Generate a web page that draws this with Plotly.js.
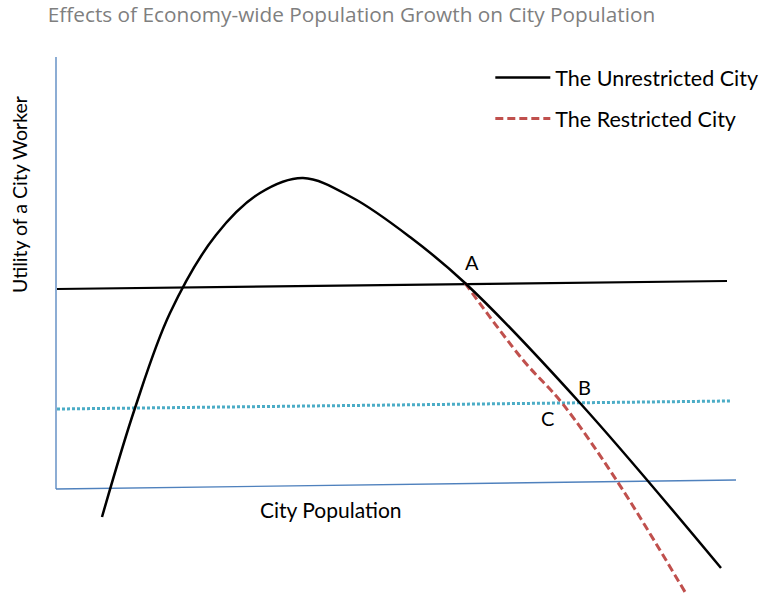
<!DOCTYPE html>
<html>
<head>
<meta charset="utf-8">
<script src="https://cdn.plot.ly/plotly-3.0.1.min.js"></script>
<style>html,body{margin:0;padding:0;background:#fff;}#chart{width:782px;height:601px;}</style>
</head>
<body>
<div id="chart"></div>
<script>
// Diagram values in "population / utility" units, origin at the axis corner
var unrestrictedPop = [46, 79, 114, 160, 204, 247, 297, 354, 409, 524, 665];
var unrestrictedUtil = [-28, 81, 176, 254, 296, 311, 291, 252, 206, 86, -79];

var restrictedPop = [409, 467, 506, 561, 629];
var restrictedUtil = [206, 129, 86, 8, -103];

var reservationHighPop = [1, 671];
var reservationHighUtil = [200, 208];

var reservationLowPop = [1, 674];
var reservationLowUtil = [80, 88];

var xAxisPop = [0, 680];
var xAxisUtil = [0, 9];
var yAxisPop = [0, 0];
var yAxisUtil = [0, 432];

var pointLabels = ["A", "B", "C"];
var pointPop = [416, 528, 491];
var pointUtil = [227, 102, 71];

var seriesNames = ["The Unrestricted City", "The Restricted City"];
var titleText = "Effects of Economy-wide Population Growth on City Population";
var xTitle = "City Population";
var yTitle = "Utility of a City Worker";

var font = "Lato, 'Open Sans', sans-serif";

var traces = [
  {x: xAxisPop, y: xAxisUtil, mode: "lines", line: {color: "#4f81bd", width: 1.3}, showlegend: false, hoverinfo: "skip"},
  {x: yAxisPop, y: yAxisUtil, mode: "lines", line: {color: "#4f81bd", width: 1.3}, showlegend: false, hoverinfo: "skip"},
  {x: reservationHighPop, y: reservationHighUtil, mode: "lines", line: {color: "#000", width: 2.2}, showlegend: false},
  {x: reservationLowPop, y: reservationLowUtil, mode: "lines", line: {color: "#4bacc6", width: 3, dash: "3px,2px"}, showlegend: false},
  {x: restrictedPop, y: restrictedUtil, mode: "lines", name: seriesNames[1], legendgroup: "r", legendrank: 2,
   line: {color: "#c0504d", width: 3, dash: "8px,4px", shape: "spline", smoothing: 1}},
  {x: unrestrictedPop, y: unrestrictedUtil, mode: "lines", name: seriesNames[0], legendgroup: "u", legendrank: 1,
   line: {color: "#000", width: 2.5, shape: "spline", smoothing: 1}}
];

var annotations = pointLabels.map(function (t, i) {
  return {x: pointPop[i], y: pointUtil[i], text: t, showarrow: false, font: {family: font, size: 20, color: "#000"}};
});
annotations.push({x: 275, y: -20, text: xTitle, showarrow: false, font: {family: font, size: 21, color: "#000"}});
annotations.push({x: -37, y: 294, text: yTitle, textangle: -90, showarrow: false, font: {family: font, size: 19.5, color: "#000"}});

var layout = {
  width: 782, height: 601,
  margin: {l: 0, r: 0, t: 0, b: 0},
  paper_bgcolor: "#fff", plot_bgcolor: "#fff",
  title: {text: titleText, x: 0.061, xanchor: "left", xref: "paper", y: 0.975, yanchor: "middle", yref: "container",
          font: {family: "'Open Sans', sans-serif", size: 20.8, color: "#7f7f7f"}},
  xaxis: {range: [-56, 726], visible: false, fixedrange: true},
  yaxis: {range: [-112, 489], visible: false, fixedrange: true},
  showlegend: true,
  legend: {x: 0.627, y: 0.905, xanchor: "left", yanchor: "top", bgcolor: "rgba(0,0,0,0)",
           font: {family: font, size: 21.5, color: "#000"}, itemwidth: 55, tracegroupgap: 10,
           traceorder: "grouped"},
  annotations: annotations
};

Plotly.newPlot("chart", traces, layout, {displayModeBar: false, staticPlot: true});
</script>
</body>
</html>
